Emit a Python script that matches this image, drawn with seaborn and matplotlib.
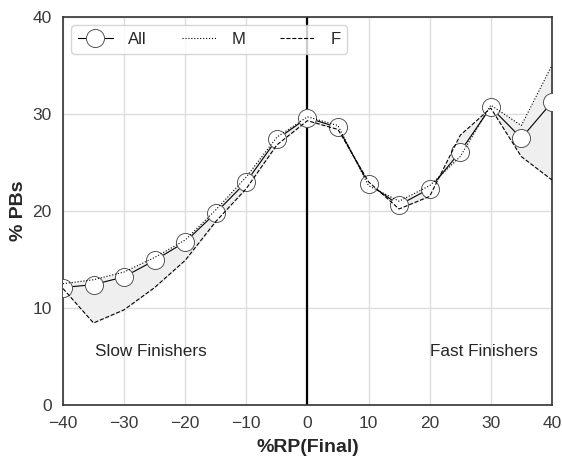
import numpy as np
import pandas as pd
import seaborn as sns
import matplotlib.pyplot as plt

# %RP(Final) bins and % PBs per group
rp = [-40, -35, -30, -25, -20, -15, -10, -5, 0, 5, 10, 15, 20, 25, 30, 35, 40]
pb_all = [12.1, 12.4, 13.2, 14.9, 16.8, 19.8, 23.0, 27.4, 29.6, 28.6, 22.8, 20.6, 22.3, 26.1, 30.7, 27.5, 31.2]
pb_m = [12.5, 12.9, 13.7, 15.2, 17.0, 20.1, 23.5, 27.6, 29.7, 28.8, 22.6, 21.0, 22.6, 25.6, 30.9, 28.8, 35.0]
pb_f = [12.0, 8.45, 9.8, 12.1, 14.9, 18.9, 22.3, 26.8, 29.3, 28.4, 23.0, 20.2, 21.5, 27.8, 30.6, 25.6, 23.2]

xticks = [-40, -30, -20, -10, 0, 10, 20, 30, 40]
yticks = [0, 10, 20, 30, 40]

df = pd.DataFrame({"rp": rp, "All": pb_all, "M": pb_m, "F": pb_f})

sns.set_theme(style="whitegrid")
plt.rcParams["font.family"] = ["Liberation Sans", "DejaVu Sans"]
plt.rcParams["axes.edgecolor"] = "#333333"
plt.rcParams["grid.color"] = "#dddddd"

fig = plt.figure(figsize=(5.62, 4.57), dpi=100)
ax = fig.add_axes([0.112, 0.114, 0.870, 0.849])

ax.fill_between(df["rp"], df["M"], df["F"], color="#efefef", zorder=1)
ax.axvline(0, color="black", lw=1.6, zorder=2)

sns.lineplot(data=df, x="rp", y="All", ax=ax, color="black", lw=0.8,
             marker="o", markersize=13, markerfacecolor="white",
             markeredgecolor="#555555", markeredgewidth=0.7, label="All", zorder=3)
sns.lineplot(data=df, x="rp", y="M", ax=ax, color="black", lw=0.8,
             linestyle=":", label="M", zorder=4)
sns.lineplot(data=df, x="rp", y="F", ax=ax, color="black", lw=0.8,
             linestyle="--", label="F", zorder=4)

ax.set_xlim(-40, 40)
ax.set_ylim(0, 40)
ax.set_xticks(xticks)
ax.set_yticks(yticks)
ax.tick_params(labelsize=12.5, colors="#3a3a3a", pad=2)
ax.set_xlabel("%RP(Final)", fontsize=14, fontweight="bold", labelpad=6)
ax.set_ylabel("% PBs", fontsize=14, fontweight="bold", labelpad=4)
for s in ax.spines.values():
    s.set_linewidth(1.2)

ax.text(-34.8, 5.5, "Slow Finishers", fontsize=12.3, va="center", ha="left")
ax.text(20.1, 5.5, "Fast Finishers", fontsize=12.3, va="center", ha="left")

leg = ax.legend(loc="upper left", ncol=3, fontsize=12, frameon=True,
                borderaxespad=0.5, columnspacing=2.1, handlelength=2.1,
                handletextpad=0.9)
leg.get_frame().set_edgecolor("#cccccc")

fig.savefig("out.png", dpi=100)
